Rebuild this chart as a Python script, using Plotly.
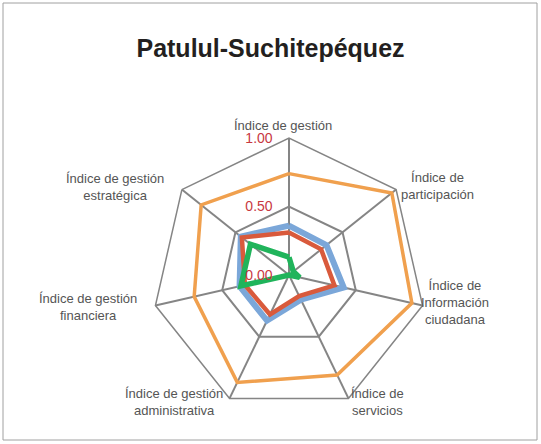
import plotly.graph_objects as go

# Ejes del radar (sentido horario desde arriba)
CATEGORIAS = [
    "Índice de gestión",
    "Índice de participación",
    "Índice de Información ciudadana",
    "Índice de servicios",
    "Índice de gestión administrativa",
    "Índice de gestión financiera",
    "Índice de gestión estratégica",
]

# Etiquetas tal como se ven en el gráfico (con saltos de línea)
ETIQUETAS = [
    "Índice de gestión",
    "Índice de<br>participación",
    "Índice de<br>Información<br>ciudadana",
    "Índice de<br>servicios",
    "Índice de gestión<br>administrativa",
    "Índice de gestión<br>financiera",
    "Índice de gestión<br>estratégica",
]

SERIE_AZUL = [0.36, 0.35, 0.41, 0.20, 0.37, 0.37, 0.45]
SERIE_ROJA = [0.31, 0.30, 0.34, 0.17, 0.32, 0.33, 0.44]
SERIE_NARANJA = [0.74, 0.96, 0.92, 0.81, 0.87, 0.71, 0.82]
SERIE_VERDE = [0.13, 0.04, 0.08, 0.0, 0.0, 0.36, 0.36]

RADIAL_TICKS = [0.0, 0.5, 1.0]

COLORS = {
    "azul": "#7ba7d9",
    "roja": "#d95a3c",
    "naranja": "#f0a04e",
    "verde": "#20b45b",
    "grid": "#858585",
    "tick": "#c8383f",
    "texto": "#555555",
}

# posiciones de las etiquetas de los ejes (px desde arriba-izquierda)
LABEL_POS = [
    (283, 125), (437, 186), (455, 302), (377, 402),
    (174, 402), (88, 307), (115, 187),
]

W, H = 541, 444


def cerrar(vals):
    return vals + [vals[0]]


theta = cerrar(CATEGORIAS)

fig = go.Figure()

series = [
    ("Serie 1", SERIE_NARANJA, COLORS["naranja"], 3.5),
    ("Serie 2", SERIE_AZUL, COLORS["azul"], 6),
    ("Serie 3", SERIE_ROJA, COLORS["roja"], 4.5),
    ("Serie 4", SERIE_VERDE, COLORS["verde"], 5.5),
]
for name, vals, color, width in series:
    fig.add_trace(go.Scatterpolar(
        r=cerrar(vals),
        theta=theta,
        mode="lines",
        name=name,
        line=dict(color=color, width=width),
    ))

annotations = []
for txt, (px_, py_) in zip(ETIQUETAS, LABEL_POS):
    annotations.append(dict(
        text=txt, xref="paper", yref="paper",
        x=px_ / W, y=1 - py_ / H,
        xanchor="center", yanchor="middle", align="center",
        showarrow=False,
        font=dict(size=13, color=COLORS["texto"]),
    ))

fig.update_layout(
    width=W,
    height=H,
    showlegend=False,
    paper_bgcolor="white",
    plot_bgcolor="white",
    margin=dict(l=0, r=0, t=0, b=0),
    font=dict(family="Liberation Sans, Arial, sans-serif", color=COLORS["texto"]),
    title=dict(
        text="<b>Patulul-Suchitepéquez</b>",
        x=0.5, xanchor="center",
        y=1 - 48 / H, yanchor="middle",
        font=dict(size=25, color="#231f20"),
    ),
    polar=dict(
        domain=dict(x=[152 / W, 426 / W], y=[32 / H, 306 / H]),
        gridshape="linear",
        bgcolor="white",
        radialaxis=dict(
            range=[0, 1],
            tickvals=RADIAL_TICKS,
            tickformat=".2f",
            angle=90,
            tickangle=90,
            side="counterclockwise",
            showline=False,
            ticks="outside",
            ticklen=11,
            tickcolor="rgba(0,0,0,0)",
            gridcolor=COLORS["grid"],
            gridwidth=1.5,
            tickfont=dict(size=14, color=COLORS["tick"]),
        ),
        angularaxis=dict(
            rotation=90,
            direction="clockwise",
            gridcolor=COLORS["grid"],
            gridwidth=1.5,
            linecolor=COLORS["grid"],
            linewidth=1.5,
            ticks="",
            showticklabels=False,
        ),
    ),
    annotations=annotations,
    shapes=[dict(
        type="rect", xref="paper", yref="paper",
        x0=3 / W, x1=537 / W, y0=4 / H, y1=441 / H,
        line=dict(color="#a0a0a0", width=1),
    )],
)

fig.write_html(
    "out.html",
    config={"displayModeBar": False},
    post_script="document.body.style.margin='0';",
)
